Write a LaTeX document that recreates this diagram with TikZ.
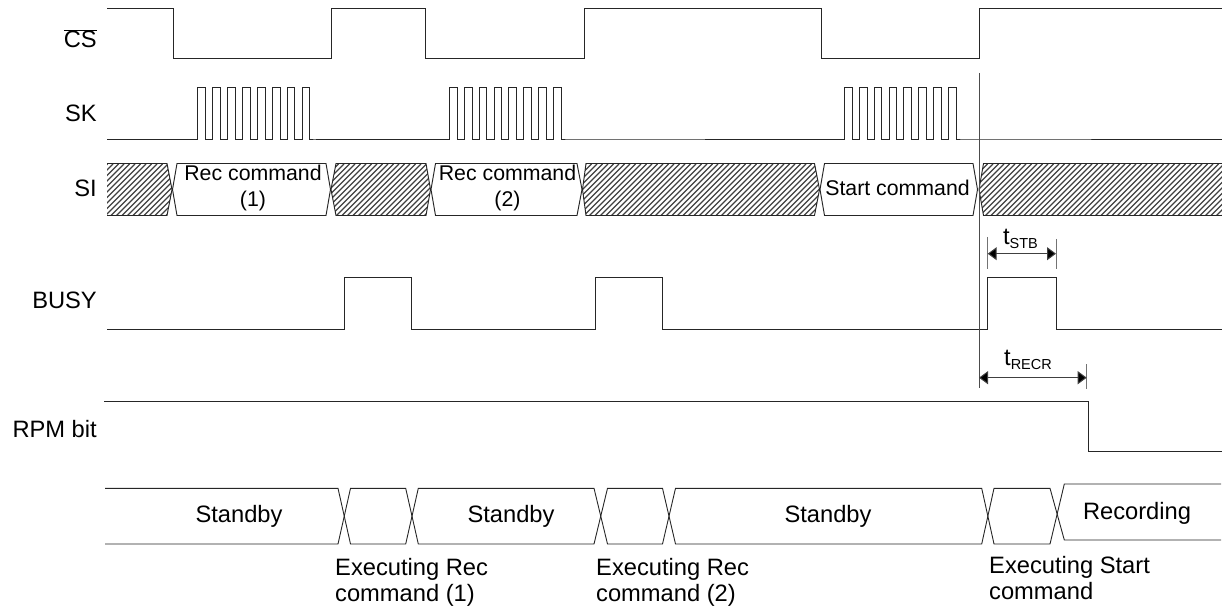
\documentclass[tikz,border=0pt]{standalone}
\usepackage{fontspec}
\setmainfont{Liberation Sans}
\usetikzlibrary{arrows.meta}
\tikzset{
  sig/.style={line width=0.95pt,draw=black!85,line join=miter},
  thin sig/.style={line width=0.9pt,draw=black!85},
  hatchline/.style={line width=1.35pt,draw=black!75},
  txt/.style={font=\fontsize{23.7}{25.7}\selectfont,inner sep=0pt,text=black},
  cmd/.style={font=\fontsize{21.3}{26}\selectfont,inner sep=0pt,text=black},
  lab/.style={txt,anchor=east},
  multi/.style={txt,align=left,anchor=north west},
  dimline/.style={line width=1pt,draw=black!75,{Triangle[length=9pt,width=13pt,fill=black]}-{Triangle[length=9pt,width=13pt,fill=black]}},
  tick/.style={line width=1pt,draw=black!55}
}
\newcommand{\subtxt}[1]{\raisebox{-4.5pt}{\fontsize{14.5}{14.5}\selectfont #1}}
\begin{document}
\begin{tikzpicture}[x=1pt,y=-1pt]
\useasboundingbox (0,0) rectangle (1222,609);
% labels
\node[lab] (lcs) at (97,38.5) {$\overline{\hbox{CS}}$};
\node[lab] (lsk) at (97,113.5) {SK};
\node[lab] (lsi) at (97,188) {SI};
\node[lab] (lbusy) at (97,300) {BUSY};
\node[lab] (lrpm) at (97,429) {RPM bit};
% CS
\draw[sig] (107,8.5)-|(173,58.5)-|(331.5,8.5)-|(425,58.5)-|(584,8.5)-|(821,58.5)-|(979,8.5)--(1222,8.5);
% SK
\draw[sig] (107,139)--(197.7,139)
  \foreach \k in {0,...,7}{ --++(0,-52)--++(7.8,0)--++(0,52)--++(7.1,0) } --(316,139);
\draw[sig] (316,139)--(449.3,139)
  \foreach \k in {0,...,7}{ --++(0,-52)--++(7.8,0)--++(0,52)--++(7.1,0) } --(844.3,139)
  \foreach \k in {0,...,7}{ --++(0,-52)--++(7.8,0)--++(0,52)--++(7.1,0) } --(1222,139);
% SI hatching
\begin{scope}
\clip (107,163.5)--(167,163.5)--(172,189.5)--(167,215.5)--(107,215.5)--cycle
      (336,163.5)--(426,163.5)--(430.5,189.5)--(426,215.5)--(336,215.5)--(331,189.5)--cycle
      (586,163.5)--(814.5,163.5)--(819.5,189.5)--(814.5,215.5)--(586,215.5)--(582.5,189.5)--cycle
      (983.5,163.5)--(1222,163.5)--(1222,215.5)--(983.5,215.5)--(979,189.5)--cycle;
\foreach \c in {0,...,220}{
  \draw[hatchline] ({50+\c*5.5},216)--({102+\c*5.5},164);
}
\end{scope}
\draw[sig] (107,163.5)--(167,163.5)--(172,189.5)--(167,215.5)--(107,215.5);
\draw[sig] (336,163.5)--(426,163.5)--(430.5,189.5)--(426,215.5)--(336,215.5)--(331,189.5)--cycle;
\draw[sig] (586,163.5)--(814.5,163.5)--(819.5,189.5)--(814.5,215.5)--(586,215.5)--(582.5,189.5)--cycle;
\draw[sig] (1222,163.5)--(983.5,163.5)--(979,189.5)--(983.5,215.5)--(1222,215.5);
% SI boxes
\draw[sig] (177,163.5)--(326,163.5)--(330.5,189.5)--(326,215.5)--(177,215.5)--(172.5,189.5)--cycle;
\draw[sig] (435.5,163.5)--(577,163.5)--(582,189.5)--(577,215.5)--(435.5,215.5)--(431,189.5)--cycle;
\draw[sig] (824.5,163.5)--(973,163.5)--(977.5,189.5)--(973,215.5)--(824.5,215.5)--(820,189.5)--cycle;
\node[cmd,align=center] (rc1) at (253,187.5) {Rec command\\(1)};
\node[cmd,align=center] (rc2) at (507.5,187.5) {Rec command\\(2)};
\node[cmd] (sc) at (897.5,188) {Start command};
% BUSY
\draw[sig] (107,329.5)-|(344.5,277.5)-|(411,329.5)-|(595,277.5)-|(662.5,329.5)-|(987.7,277.5)-|(1056,329.5)--(1222,329.5);
% vertical reference
\coordinate (vt) at (979,73);
\coordinate (vb) at (979,388);
\draw[line width=1pt,draw=black!70] (vt)--(vb);
% tSTB
\coordinate (sa) at (987.7,253.7);
\coordinate (sb) at (1056,253.7);
\draw[tick] (987.7,237)--(987.7,269);
\draw[tick] (1056,239)--(1056,269);
\draw[dimline] (sa)--(sb);
\node[txt] (tstb) at (1020.5,239) {t\subtxt{STB}};
% tRECR
\coordinate (ra) at (979,377.7);
\coordinate (rb) at (1086.7,377.7);
\draw[tick] (1086.7,364)--(1086.7,389);
\draw[dimline] (ra)--(rb);
\node[txt] (trecr) at (1028,360) {t\subtxt{RECR}};
% RPM
\draw[sig] (104,401.7)-|(1088.3,451.7)--(1222,451.7);
% State row
\draw[thin sig] (105,488.3)--(338,488.3)--(350.5,544)--(405.7,544)--(418.3,488.3)--(594,488.3)--(607.5,544)--(662.5,544)--(675.5,488.3)--(981.7,488.3)--(994,544)--(1050,544)--(1064.3,484)--(1221,484);
\draw[thin sig] (105,544)--(338,544)--(350.5,488.3)--(405.7,488.3)--(418.3,544)--(594,544)--(607.5,488.3)--(662.5,488.3)--(675.5,544)--(981.7,544)--(994,488.3)--(1050,488.3)--(1064.3,540)--(1221,540);
\node[txt] (st1) at (239,516) {Standby};
\node[txt] (st2) at (511,516) {Standby};
\node[txt] (st3) at (828,516) {Standby};
\node[txt] (rec) at (1137,513) {Recording};
\node[multi] (e1) at (335,558) {Executing Rec\\command (1)};
\node[multi] (e2) at (596,558) {Executing Rec\\command (2)};
\node[multi] (e3) at (989,556) {Executing Start\\command};
\end{tikzpicture}
\end{document}
